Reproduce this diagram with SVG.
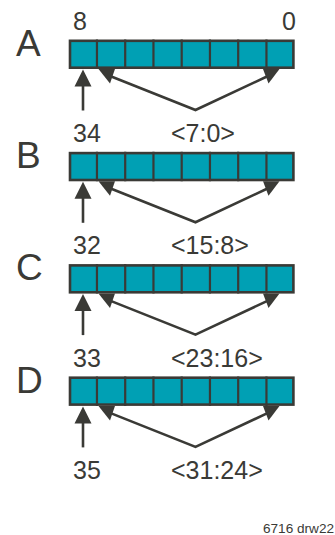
<svg xmlns="http://www.w3.org/2000/svg" xmlns:xlink="http://www.w3.org/1999/xlink" width="335" height="535" viewBox="0 0 335 535">
<style>
text{font-family:"Liberation Sans",Arial,sans-serif;fill:#3a3a36}
.big{font-size:37px}
.num{font-size:25px}
.note{font-size:13.6px}
.cell{fill:#00a0b4;stroke:#3a3a36;stroke-width:2.6}
.div{stroke:#3a3a36;stroke-width:2.2}
.ln{fill:none;stroke:#3a3a36;stroke-width:2.6;stroke-linejoin:miter}
.ah{fill:#3a3a36}
</style>
<defs>
<g id="reg">
<rect class="cell" x="70" y="1.3" width="223.4" height="26.9"/>
<path class="div" d="M96.95 0V29.5M125.2 0V29.5M153.45 0V29.5M181.7 0V29.5M209.95 0V29.5M238.2 0V29.5M266.45 0V29.5"/>
</g>
<g id="arr">
<polygon class="ah" points="83,0.5 74.5,17.5 91.5,17.5"/>
<line class="ln" x1="83" y1="16" x2="83" y2="41.5"/>
<polyline class="ln" points="110,7 195.5,41 268,7"/>
<polygon class="ah" points="98.5,0 115,0 110,14.5"/>
<polygon class="ah" points="263,0 279.5,0 268.5,14.5"/>
</g>
</defs>
<g id="nodeA">
<use xlink:href="#reg" transform="translate(0,39.5)"/>
<text class="big" x="16" y="55.8">A</text>
</g>
<g id="nodeB">
<use xlink:href="#reg" transform="translate(0,151.8)"/>
<text class="big" x="16" y="168.1">B</text>
</g>
<g id="nodeC">
<use xlink:href="#reg" transform="translate(0,264.1)"/>
<text class="big" x="16" y="280.4">C</text>
</g>
<g id="nodeD">
<use xlink:href="#reg" transform="translate(0,376.4)"/>
<text class="big" x="16" y="392.7">D</text>
</g>
<g id="connectors">
<use xlink:href="#arr" transform="translate(0,69)"/>
<use xlink:href="#arr" transform="translate(0,181.3)"/>
<use xlink:href="#arr" transform="translate(0,293.6)"/>
<use xlink:href="#arr" transform="translate(0,405.9)"/>
</g>
<g id="labels">
<text class="num" x="73" y="30">8</text>
<text class="num" x="282" y="30">0</text>
<text class="num" x="73" y="142">34</text>
<text class="num" x="171" y="142">&lt;7:0&gt;</text>
<text class="num" x="73" y="254.3">32</text>
<text class="num" x="171" y="254.3">&lt;15:8&gt;</text>
<text class="num" x="73" y="366.6">33</text>
<text class="num" x="171" y="366.6">&lt;23:16&gt;</text>
<text class="num" x="73" y="478.9">35</text>
<text class="num" x="171" y="478.9">&lt;31:24&gt;</text>
<text class="note" x="263" y="532.5">6716 drw22</text>
</g>
</svg>
